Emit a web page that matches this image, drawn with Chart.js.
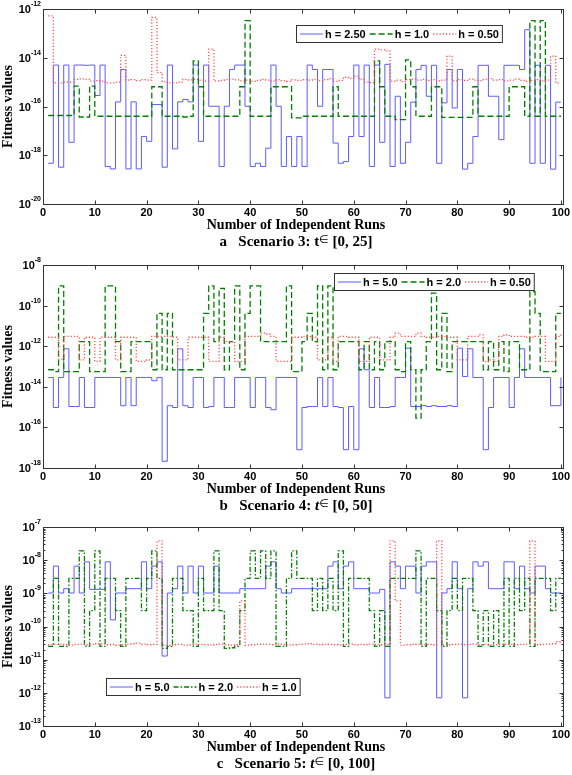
<!DOCTYPE html>
<html>
<head>
<meta charset="utf-8">
<script src="https://cdn.jsdelivr.net/npm/chart.js@4.4.1/dist/chart.umd.min.js"></script>
<style>
    body { margin: 0; background: #fff; width: 572px; height: 775px; overflow: hidden; }
    canvas { position: absolute; left: 0; }
</style>
</head>
<body>
<canvas id="chartA" width="572" height="255" style="top:0px"></canvas>
<canvas id="chartB" width="572" height="260" style="top:255px"></canvas>
<canvas id="chartC" width="572" height="260" style="top:515px"></canvas>
<script>
// values are log10(fitness), runs 1..100
const sc3_h250 = [-18.33,-14.30,-18.49,-14.30,-17.47,-14.30,-14.30,-14.31,-14.30,-15.55,
    -14.30,-18.46,-18.56,-15.81,-14.48,-18.56,-15.81,-18.56,-17.23,-17.43,
    -15.92,-15.92,-18.49,-14.30,-17.74,-15.81,-15.71,-15.81,-14.30,-17.43,
    -14.30,-15.99,-15.99,-18.46,-15.99,-14.48,-14.30,-14.30,-15.99,-18.46,
    -18.33,-18.46,-17.71,-14.30,-15.99,-18.46,-17.23,-18.46,-17.23,-18.46,
    -14.30,-14.48,-15.99,-14.48,-14.48,-17.50,-18.33,-18.26,-17.23,-14.30,
    -17.23,-14.30,-18.46,-14.30,-17.47,-14.27,-18.46,-15.58,-18.33,-17.47,
    -15.82,-14.48,-14.31,-15.58,-14.31,-18.33,-15.85,-14.48,-16.06,-14.48,
    -18.57,-18.33,-17.23,-14.31,-14.31,-15.58,-15.58,-17.36,-14.31,-14.31,
    -14.31,-14.48,-12.85,-18.33,-14.31,-18.33,-14.31,-18.57,-15.82,-15.82];
const sc3_h10 = [-16.37,-16.37,-16.37,-16.37,-16.37,-15.16,-16.43,-16.43,-15.16,-16.40,
    -16.40,-16.40,-16.40,-16.40,-16.40,-16.40,-16.40,-16.40,-16.40,-16.40,
    -15.19,-15.19,-16.40,-16.40,-16.40,-16.40,-16.43,-16.40,-14.13,-15.19,
    -16.40,-16.40,-16.40,-16.40,-16.40,-16.40,-16.40,-15.19,-12.48,-16.40,
    -16.40,-16.40,-16.40,-15.19,-15.19,-15.19,-15.19,-16.47,-16.47,-16.40,
    -16.40,-16.40,-16.40,-16.40,-16.40,-15.19,-16.40,-16.40,-16.40,-16.40,
    -16.40,-16.40,-16.40,-14.13,-15.19,-16.40,-16.40,-16.54,-16.54,-14.09,
    -15.19,-16.40,-16.40,-16.40,-15.19,-15.19,-16.45,-16.45,-16.45,-16.45,
    -16.45,-16.45,-15.19,-16.40,-16.40,-16.40,-16.40,-16.40,-16.40,-15.19,
    -15.19,-15.19,-16.40,-12.48,-16.40,-12.48,-16.40,-16.40,-16.40,-16.40];
const sc3_h050 = [-12.28,-15.03,-15.03,-15.00,-15.00,-14.89,-14.87,-14.89,-14.96,-14.94,
    -14.96,-15.03,-15.03,-15.00,-13.90,-14.92,-14.90,-14.94,-14.90,-14.92,
    -12.34,-14.61,-14.98,-15.03,-15.03,-15.00,-14.89,-14.91,-14.89,-14.92,
    -14.96,-13.65,-14.95,-14.93,-14.90,-14.88,-14.91,-14.95,-14.92,-14.96,
    -14.93,-14.89,-14.92,-14.96,-14.90,-14.94,-14.97,-14.91,-14.93,-14.90,
    -14.92,-14.88,-14.95,-14.90,-14.86,-14.97,-14.93,-14.80,-14.85,-14.75,
    -14.88,-15.00,-15.02,-13.65,-13.68,-13.72,-14.96,-14.92,-14.98,-14.90,
    -14.88,-14.92,-14.89,-14.94,-14.90,-14.95,-14.92,-13.93,-14.95,-14.90,
    -14.93,-14.88,-14.92,-14.94,-14.89,-14.86,-14.92,-14.90,-14.95,-14.92,
    -14.88,-14.93,-14.97,-14.93,-14.90,-14.95,-14.92,-13.93,-15.03,-15.03];

const sc4_h50 = [-13.54,-15.02,-13.54,-12.13,-14.97,-14.97,-13.54,-15.02,-15.02,-13.54,
    -13.54,-13.54,-13.54,-13.54,-14.93,-13.54,-14.93,-13.54,-13.54,-13.54,
    -13.70,-13.54,-17.67,-14.93,-15.02,-12.13,-14.93,-15.02,-13.54,-13.54,
    -15.02,-14.97,-13.54,-13.54,-15.02,-15.02,-13.54,-13.54,-13.54,-15.02,
    -13.54,-13.54,-15.02,-15.13,-13.54,-13.54,-13.54,-13.54,-17.10,-15.02,
    -14.97,-14.97,-13.54,-14.97,-13.54,-14.97,-15.02,-17.10,-14.97,-17.10,
    -12.13,-13.16,-15.02,-13.54,-15.02,-15.02,-14.97,-13.54,-13.54,-12.10,
    -14.97,-14.97,-14.93,-14.97,-14.93,-14.97,-14.97,-14.93,-14.97,-12.10,
    -13.49,-12.13,-13.54,-13.54,-17.10,-15.02,-13.54,-13.54,-13.54,-15.02,
    -13.54,-12.13,-13.54,-13.54,-13.54,-13.54,-13.54,-14.93,-14.93,-13.54];
const sc4_h20 = [-13.16,-13.25,-9.03,-13.25,-13.25,-13.25,-11.77,-11.77,-13.25,-13.25,
    -13.25,-9.03,-9.03,-11.77,-13.25,-13.25,-11.77,-11.77,-11.77,-11.77,
    -13.16,-10.38,-13.16,-10.38,-13.16,-13.16,-13.16,-13.16,-13.16,-13.16,
    -10.38,-9.03,-11.77,-9.15,-13.16,-11.77,-9.03,-13.16,-10.38,-9.03,
    -9.03,-11.77,-11.77,-11.77,-11.77,-11.77,-9.03,-13.25,-13.25,-11.77,
    -10.38,-11.77,-9.03,-13.16,-9.03,-13.16,-11.77,-11.77,-11.77,-11.77,
    -13.16,-11.77,-13.16,-11.77,-13.16,-11.77,-11.77,-13.16,-13.25,-11.77,
    -13.16,-15.54,-13.16,-11.77,-9.39,-13.16,-10.38,-13.25,-11.77,-11.77,
    -11.77,-11.77,-11.77,-11.77,-13.16,-11.77,-13.16,-11.77,-13.25,-11.77,
    -11.77,-13.16,-13.16,-9.31,-10.38,-13.25,-13.25,-13.25,-10.38,-10.38];
const sc4_h050 = [-11.56,-11.56,-12.64,-11.52,-11.52,-11.52,-12.67,-11.56,-11.56,-12.75,
    -11.56,-11.56,-11.56,-12.67,-11.56,-11.56,-11.56,-12.75,-12.75,-12.67,
    -11.52,-11.52,-11.52,-11.52,-11.56,-12.67,-12.67,-11.56,-11.56,-11.56,
    -11.56,-12.75,-12.75,-11.56,-11.77,-11.77,-12.75,-12.75,-11.52,-11.52,
    -11.52,-11.36,-11.40,-11.52,-12.75,-12.75,-12.75,-11.56,-11.56,-11.52,
    -11.52,-11.56,-12.67,-12.67,-11.56,-12.75,-11.52,-11.52,-11.56,-11.56,
    -12.75,-12.75,-11.56,-11.56,-12.67,-12.67,-11.56,-11.36,-11.52,-11.52,
    -11.52,-11.36,-11.52,-11.56,-11.56,-11.52,-11.52,-11.56,-11.56,-12.67,
    -12.67,-11.52,-11.52,-11.44,-12.75,-12.67,-12.75,-11.52,-11.44,-11.52,
    -11.52,-11.52,-11.56,-11.56,-11.52,-11.52,-12.75,-12.75,-11.52,-11.40];

const sc5_h50 = [-8.99,-8.18,-8.99,-8.86,-8.99,-8.18,-8.99,-8.05,-8.88,-8.88,
    -8.88,-8.05,-9.80,-8.99,-8.99,-8.86,-8.86,-8.86,-8.05,-8.86,
    -8.18,-8.05,-10.89,-8.99,-8.86,-8.18,-8.99,-8.18,-8.99,-8.18,
    -8.99,-8.99,-8.18,-8.99,-8.99,-8.99,-8.99,-8.86,-8.86,-8.86,
    -8.86,-8.86,-8.18,-8.05,-8.86,-8.99,-8.99,-8.86,-8.86,-8.86,
    -8.86,-8.86,-8.86,-8.86,-8.18,-8.05,-8.86,-8.18,-8.05,-8.86,
    -8.86,-8.86,-8.99,-8.99,-8.88,-12.15,-8.05,-8.18,-8.86,-8.18,
    -8.18,-8.99,-8.18,-8.05,-8.05,-12.15,-8.99,-8.86,-8.05,-8.86,
    -12.15,-8.86,-8.05,-8.18,-8.05,-8.86,-8.86,-8.86,-8.05,-8.05,
    -8.86,-8.18,-8.86,-8.99,-8.18,-8.18,-8.86,-8.99,-8.99,-8.99];
const sc5_h20 = [-10.60,-8.55,-10.60,-10.60,-8.55,-8.55,-7.72,-10.60,-9.52,-7.72,
    -10.60,-8.55,-8.55,-9.52,-10.60,-8.55,-8.55,-8.55,-9.52,-8.55,
    -7.72,-8.55,-10.66,-10.60,-8.55,-8.55,-9.52,-9.52,-10.60,-8.55,
    -9.52,-9.52,-7.72,-9.52,-10.66,-10.64,-10.60,-9.52,-8.55,-7.72,
    -8.55,-7.72,-8.55,-7.72,-10.60,-10.60,-8.55,-7.72,-8.55,-8.55,
    -8.55,-9.52,-8.55,-9.52,-8.55,-9.52,-7.72,-10.60,-8.55,-8.55,
    -8.55,-8.55,-9.52,-10.60,-9.52,-10.60,-8.55,-8.55,-8.55,-8.55,
    -8.55,-7.72,-10.60,-8.55,-8.55,-9.52,-10.60,-9.52,-8.55,-9.52,
    -8.55,-8.55,-9.52,-10.60,-9.52,-10.60,-9.52,-10.60,-8.55,-10.60,
    -8.55,-9.52,-8.55,-10.60,-8.55,-8.55,-8.55,-9.52,-8.55,-8.55];
const sc5_h10 = [-10.55,-10.54,-10.53,-10.55,-10.56,-10.54,-10.53,-10.55,-10.54,-10.52,
    -10.53,-10.55,-10.54,-10.56,-10.55,-10.53,-10.52,-10.50,-10.53,-10.55,
    -10.54,-7.42,-10.56,-10.57,-10.55,-10.54,-10.56,-10.55,-10.53,-10.54,
    -10.55,-10.56,-10.54,-10.53,-10.55,-10.56,-10.55,-9.23,-10.56,-10.55,
    -10.54,-10.53,-10.54,-10.55,-10.53,-10.54,-10.56,-10.55,-10.54,-10.53,
    -10.52,-10.54,-10.55,-10.53,-10.54,-10.55,-10.56,-10.54,-10.53,-10.55,
    -10.54,-10.55,-10.53,-10.54,-10.55,-10.54,-7.42,-9.23,-10.56,-10.55,
    -10.54,-10.53,-10.55,-10.54,-10.55,-7.42,-10.56,-10.55,-10.54,-10.53,
    -10.55,-10.54,-10.53,-10.55,-10.54,-10.56,-10.55,-10.54,-10.53,-10.54,
    -10.55,-10.54,-10.53,-7.42,-10.55,-10.54,-10.53,-10.52,-10.46,-10.52];

const xTicks = [0, 10, 20, 30, 40, 50, 60, 70, 80, 90, 100];

const BLUE = '#5c5cff';
const GREEN = '#007f00';
const RED = '#ff4a4a';
const SERIF = '"Liberation Serif", "Times New Roman", serif';
const SANS = '"Liberation Sans", Arial, sans-serif';

function toPoints(logs) {
    return logs.map((v, i) => ({ x: i + 1, y: Math.pow(10, v) }));
}

function seg(ctx, x1, y1, x2, y2) {
    ctx.beginPath();
    ctx.moveTo(x1, y1);
    ctx.lineTo(x2, y2);
    ctx.stroke();
}

// frame, inward ticks, labels, legend and caption, matlab style
const figurePlugin = {
    id: 'figure',
    afterDatasetsDraw(chart, args, opts) {
        const ctx = chart.ctx;
        const a = chart.chartArea;
        const xs = chart.scales.x, ys = chart.scales.y;
        const L = Math.round(a.left) + 0.5, R = Math.round(a.right) + 0.5;
        const T = Math.round(a.top) + 0.5, B = Math.round(a.bottom) + 0.5;
        ctx.save();
        ctx.setLineDash([]);
        ctx.strokeStyle = '#333';
        ctx.lineWidth = 1;
        ctx.strokeRect(L, T, R - L, B - T);

        xTicks.forEach(v => {
            const px = Math.round(xs.getPixelForValue(v)) + 0.5;
            seg(ctx, px, B, px, B - 4);
            seg(ctx, px, T, px, T + 4);
        });
        opts.yLabels.forEach(e => {
            const py = Math.round(ys.getPixelForValue(Math.pow(10, e))) + 0.5;
            seg(ctx, L, py, L + 4, py);
            seg(ctx, R, py, R - 4, py);
        });
        if (opts.minor) {
            for (let d = opts.yLabels[0]; d < opts.yLabels[opts.yLabels.length - 1]; d++) {
                for (let k = 2; k <= 9; k++) {
                    const py = Math.round(ys.getPixelForValue(k * Math.pow(10, d))) + 0.5;
                    seg(ctx, L, py, L + 2, py);
                    seg(ctx, R, py, R - 2, py);
                }
            }
        }

        ctx.fillStyle = '#000';
        // x tick labels
        ctx.font = 'bold 11px ' + SANS;
        ctx.textAlign = 'center';
        ctx.textBaseline = 'middle';
        xTicks.forEach(v => {
            ctx.fillText(String(v), xs.getPixelForValue(v), a.bottom + 8.5);
        });
        // y tick labels 10^e
        opts.yLabels.forEach(e => {
            const py = ys.getPixelForValue(Math.pow(10, e));
            const exp = String(e);
            ctx.font = 'bold 7px ' + SANS;
            const ew = ctx.measureText(exp).width;
            const xEnd = a.left - 2;
            ctx.textAlign = 'left';
            ctx.fillText(exp, xEnd - ew, py - 5);
            ctx.font = 'bold 11px ' + SANS;
            ctx.textAlign = 'right';
            ctx.fillText('10', xEnd - ew, py + 1);
        });

        // axis titles
        ctx.font = 'bold 14px ' + SERIF;
        ctx.textAlign = 'center';
        ctx.fillText('Number of Independent Runs', 296, a.bottom + 21.5);
        ctx.save();
        ctx.translate(8, (a.top + a.bottom) / 2);
        ctx.rotate(-Math.PI / 2);
        ctx.fillText('Fitness values', 0, 0);
        ctx.restore();

        // caption
        const parts = opts.caption;
        let total = 0;
        parts.forEach(p => { ctx.font = p.font; total += ctx.measureText(p.text).width; });
        let cx = 296 - total / 2;
        ctx.textAlign = 'left';
        ctx.textBaseline = 'alphabetic';
        parts.forEach(p => {
            ctx.font = p.font;
            ctx.fillText(p.text, cx, a.bottom + 42 + (p.rise || 0));
            cx += ctx.measureText(p.text).width;
        });

        // legend
        const lg = opts.legend;
        ctx.font = 'bold 11px ' + SANS;
        let w = 3;
        chart.data.datasets.forEach(ds => { w += 26 + ctx.measureText(ds.label).width + 3; });
        ctx.fillStyle = '#fff';
        ctx.fillRect(lg.x, lg.y, w, 17);
        ctx.strokeStyle = '#333';
        ctx.strokeRect(lg.x + 0.5, lg.y + 0.5, w, 17);
        let lx = lg.x + 4;
        const ly = lg.y + 9;
        chart.data.datasets.forEach(ds => {
            ctx.strokeStyle = ds.borderColor;
            ctx.lineWidth = ds.borderWidth;
            ctx.setLineDash(ds.borderDash || []);
            seg(ctx, lx, ly, lx + 23, ly);
            ctx.setLineDash([]);
            ctx.fillStyle = '#000';
            ctx.textBaseline = 'middle';
            ctx.fillText(ds.label, lx + 25, ly + 0.5);
            lx += 26 + ctx.measureText(ds.label).width + 3;
        });
        ctx.restore();
    }
};

function captionParts(letter, scen, range, italicT) {
    const B = 'bold 15px ' + SERIF;
    return [
        { text: letter + '   Scenario ' + scen + ': ', font: B },
        { text: 't', font: (italicT ? 'italic ' : '') + B },
        { text: '\u2208', font: '11px "DejaVu Sans"', rise: -3 },
        { text: ' [0, ' + range + ']', font: B }
    ];
}

function makePanel(id, series, labels, greenDash, yMin, yMax, yLabels, minor, pad, legend, caption) {
    const dashes = [[], greenDash, [1.2, 2]];
    const colors = [BLUE, GREEN, RED];
    const datasets = series.map((s, i) => ({
        label: labels[i],
        data: toPoints(s),
        borderColor: colors[i],
        borderWidth: i === 0 ? 1 : 1.3,
        borderDash: dashes[i],
        stepped: true,
        pointRadius: 0,
        fill: false,
        order: 2 - i
    }));
    return new Chart(document.getElementById(id).getContext('2d'), {
        type: 'line',
        data: { datasets: datasets },
        options: {
            responsive: false,
            animation: false,
            layout: { padding: pad },
            plugins: {
                legend: { display: false },
                tooltip: { enabled: false },
                figure: { yLabels: yLabels, minor: minor, legend: legend, caption: caption }
            },
            scales: {
                x: { type: 'linear', min: 0, max: 100.4, display: false },
                y: { type: 'logarithmic', min: yMin, max: yMax, display: false }
            }
        },
        plugins: [figurePlugin]
    });
}

makePanel('chartA', [sc3_h250, sc3_h10, sc3_h050], ['h = 2.50', 'h = 1.0', 'h = 0.50'], [6, 3],
    1e-20, 1e-12, [-20, -18, -16, -14, -12], false,
    { left: 43, right: 9, top: 9, bottom: 51 },
    { x: 296, y: 25 }, captionParts('a', 3, 25, false));

makePanel('chartB', [sc4_h50, sc4_h20, sc4_h050], ['h = 5.0', 'h = 2.0', 'h = 0.50'], [6, 3],
    1e-18, 1e-8, [-18, -16, -14, -12, -10, -8], false,
    { left: 43, right: 9, top: 10, bottom: 47 },
    { x: 334, y: 18 }, captionParts('b', 4, 50, true));

makePanel('chartC', [sc5_h50, sc5_h20, sc5_h10], ['h = 5.0', 'h = 2.0', 'h = 1.0'], [5, 2, 1.5, 2],
    1e-13, 1e-7, [-13, -12, -11, -10, -9, -8, -7], true,
    { left: 43, right: 9, top: 12, bottom: 49 },
    { x: 106, y: 163 }, captionParts('c', 5, 100, true));
</script>
</body>
</html>
